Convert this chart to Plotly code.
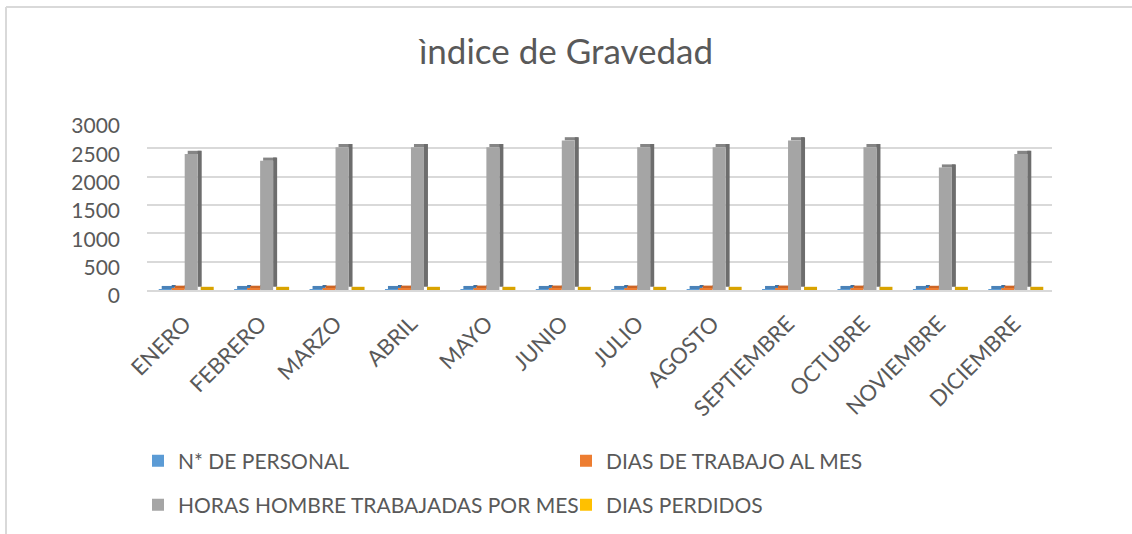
import plotly.graph_objects as go

# ---- data ----
months = ["ENERO", "FEBRERO", "MARZO", "ABRIL", "MAYO", "JUNIO", "JULIO",
          "AGOSTO", "SEPTIEMBRE", "OCTUBRE", "NOVIEMBRE", "DICIEMBRE"]
n_personal = [15, 15, 15, 15, 15, 15, 15, 15, 15, 15, 15, 15]
dias_trabajo = [20, 19, 21, 21, 21, 22, 21, 21, 22, 21, 18, 20]
horas_hombre = [2400, 2280, 2520, 2520, 2520, 2640, 2520, 2520, 2640, 2520, 2160, 2400]
dias_perdidos = [0, 0, 0, 0, 0, 0, 0, 0, 0, 0, 0, 0]
y_ticks = [0, 500, 1000, 1500, 2000, 2500, 3000]

series = [
    ("N* DE PERSONAL", n_personal, "#5b9bd5", "#4a82b8", "#3f70a0"),
    ("DIAS DE TRABAJO AL MES", dias_trabajo, "#ed7d31", "#cc6526", "#b0561f"),
    ("HORAS HOMBRE TRABAJADAS POR MES", horas_hombre, "#a5a5a5", "#858585", "#6d6d6d"),
    ("DIAS PERDIDOS", dias_perdidos, "#ffc000", "#d9a300", "#b88a00"),
]
# legend placement (pixel positions of each legend entry)
legend_pos = [(138, 461), (566, 461), (138, 505), (566, 505)]

# ---- layout geometry ----
W, H = 1132, 534
L, R, T, B = 147, 80, 120, 244
plot_w = W - L - R
plot_h = H - T - B
ymax = 3000
px_x = 1.0 / (plot_w / len(months))   # one pixel in category units
px_y = ymax / plot_h                   # one pixel in data units

w = 13 * px_x          # bar width
depth = 3.2 * px_y     # apparent depth of 3D top face
shift = 3 * px_x       # horizontal shift of top face
side_w = 4 * px_x      # side face width

text_color = "#595959"
font_family = "Lato, Carlito, Calibri, sans-serif"

fig = go.Figure()
offsets = [-2 * w, -w, 0, w]
legend_names = ["legend", "legend2", "legend3", "legend4"]

for (name, vals, c_front, c_top, c_side), off, leg in zip(series, offsets, legend_names):
    # top face
    fig.add_trace(go.Bar(x=months, y=[depth for _ in vals], base=vals,
                         offset=off + shift, width=w, marker_color=c_top,
                         marker_line_width=0, showlegend=False, hoverinfo="skip"))
    # side face
    fig.add_trace(go.Bar(x=months, y=vals, base=depth,
                         offset=off + w, width=side_w, marker_color=c_side,
                         marker_line_width=0, showlegend=False, hoverinfo="skip"))
    # front face
    fig.add_trace(go.Bar(x=months, y=vals, name=name, offset=off, width=w,
                         marker_color=c_front, marker_line_width=0, legend=leg))

# chart border (top and left edges)
bx0 = (6 - L) / plot_w
by_top = (H - B - 7) / plot_h
by_bot = (H - B - H) / plot_h
fig.add_shape(type="line", xref="paper", yref="paper", x0=bx0, x1=(W - L) / plot_w,
              y0=by_top, y1=by_top, line=dict(color="#d9d9d9", width=2))
fig.add_shape(type="line", xref="paper", yref="paper", x0=bx0, x1=bx0,
              y0=by_top, y1=by_bot, line=dict(color="#d9d9d9", width=2))

legend_common = dict(orientation="h", xref="container", yref="container",
                     xanchor="left", yanchor="middle",
                     font=dict(size=21, color=text_color, family=font_family),
                     bgcolor="rgba(0,0,0,0)", itemclick=False, itemdoubleclick=False)
legends = {}
for leg, (lx, ly) in zip(legend_names, legend_pos):
    legends[leg] = dict(x=lx / W, y=1 - ly / H, **legend_common)

fig.update_layout(
    width=W, height=H,
    margin=dict(l=L, r=R, t=T, b=B),
    paper_bgcolor="white", plot_bgcolor="white",
    barmode="overlay",
    font=dict(family=font_family, color=text_color),
    title=dict(text="ìndice de Gravedad", x=0.5, xref="container", xanchor="center",
               y=1 - 52 / H, yref="container", yanchor="middle",
               font=dict(size=35, color=text_color, family=font_family)),
    xaxis=dict(type="category", tickangle=-45, showgrid=False, showline=True,
               linecolor="#d9d9d9", linewidth=2, ticks="", ticklabelstandoff=10,
               tickfont=dict(size=22, color=text_color), range=[-0.5, 11.5]),
    yaxis=dict(range=[0, ymax], tickvals=y_ticks, showgrid=True, gridcolor="#d9d9d9",
               gridwidth=2, zeroline=False, showline=False, ticks="",
               ticklabelstandoff=26, ticklabelshift=6,
               tickfont=dict(size=21, color=text_color)),
    **legends,
)

fig.write_html("out.html", config={"displayModeBar": False},
               post_script="document.body.style.margin='0';")
